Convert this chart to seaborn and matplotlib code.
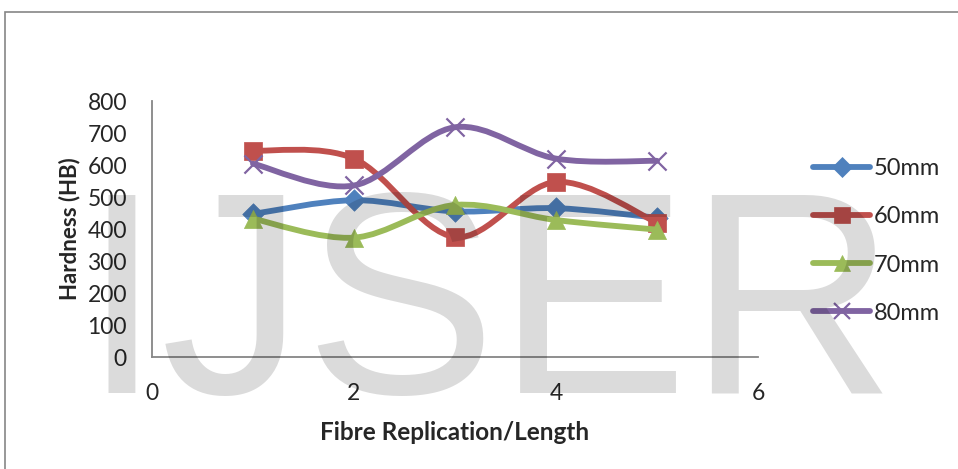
import numpy as np
import pandas as pd
import matplotlib
matplotlib.use("Agg")
import matplotlib.pyplot as plt
import seaborn as sns
from matplotlib.path import Path
from matplotlib.patches import PathPatch, Rectangle
from matplotlib.lines import Line2D

# ---- data ----
replication = [1, 2, 3, 4, 5]
series_names = ["50mm", "60mm", "70mm", "80mm"]
hb_50mm = [447, 490, 455, 465, 435]
hb_60mm = [645, 620, 375, 547, 420]
hb_70mm = [432, 373, 475, 428, 398]
hb_80mm = [604, 536, 718, 620, 613]
x_ticks = [0, 2, 4, 6]
y_ticks = [0, 100, 200, 300, 400, 500, 600, 700, 800]

colors = ["#4F81BD", "#C0504D", "#9BBB59", "#8064A2"]
markers = ["D", "s", "^", "x"]
msizes = [120, 160, 170, 170]

sns.set_theme(style="white")
plt.rcParams["font.family"] = ["Lato", "DejaVu Sans"]

fig = plt.figure(figsize=(9.58, 4.69), dpi=100)
ax = fig.add_axes([152/958, 1-357/469, (758-152)/958, (357-101)/469])

df = pd.DataFrame({
    "x": replication * 4,
    "hb": hb_50mm + hb_60mm + hb_70mm + hb_80mm,
    "series": sum([[n] * len(replication) for n in series_names], []),
})


def smooth_path(xs, ys):
    # Excel-style smoothed line: cubic Bezier segments through the data points
    pts = np.column_stack([xs, ys]).astype(float)
    n = len(pts)
    verts = [pts[0]]
    codes = [Path.MOVETO]
    for i in range(n - 1):
        p0 = pts[i - 1] if i > 0 else pts[i]
        p1 = pts[i]
        p2 = pts[i + 1]
        p3 = pts[i + 2] if i + 2 < n else pts[i + 1]
        c1 = p1 + (p2 - p0) / 6.0
        c2 = p2 - (p3 - p1) / 6.0
        verts += [c1, c2, p2]
        codes += [Path.CURVE4] * 3
    return Path(verts, codes)


for i, name in enumerate(series_names):
    sub = df[df["series"] == name]
    patch = PathPatch(smooth_path(sub["x"].values, sub["hb"].values),
                      facecolor="none", edgecolor=colors[i], lw=4.2,
                      capstyle="round", joinstyle="round", zorder=2 + i * 2)
    ax.add_patch(patch)
    if markers[i] == "x":
        sns.scatterplot(data=sub, x="x", y="hb", marker="x", color=colors[i],
                        s=msizes[i], linewidth=1.6, ax=ax, zorder=3 + i * 2, legend=False)
    else:
        sns.scatterplot(data=sub, x="x", y="hb", marker=markers[i], color=colors[i],
                        edgecolor=colors[i], s=msizes[i], linewidth=0.5, ax=ax,
                        zorder=3 + i * 2, legend=False)

ax.set_xlim(0, 6)
ax.set_ylim(0, 800)
ax.set_xticks(x_ticks)
ax.set_yticks(y_ticks)
ax.set_xticklabels([str(t) for t in x_ticks], fontsize=16.5)
ax.set_yticklabels([str(t) for t in y_ticks], fontsize=16.5)
ax.tick_params(axis="both", length=0)
ax.tick_params(axis="y", pad=18)
ax.tick_params(axis="x", pad=19)
ax.set_xlabel("Fibre Replication/Length", fontsize=17.5, fontweight="bold", labelpad=12)
ax.set_ylabel("Hardness (HB)", fontsize=16, fontweight="bold", labelpad=5)
for s in ["top", "right"]:
    ax.spines[s].set_visible(False)
for s in ["left", "bottom"]:
    ax.spines[s].set_color("#868686")
    ax.spines[s].set_linewidth(1.3)
ax.grid(False)
ax.set_facecolor("none")

handles = [Line2D([0], [0], color=colors[i], lw=4.2, marker=markers[i],
                  markersize=12 if markers[i] != "D" else 10,
                  markeredgewidth=1.6 if markers[i] == "x" else 0.5,
                  markeredgecolor=colors[i], solid_capstyle="round")
           for i in range(4)]
leg = fig.legend(handles, series_names, loc="center left",
                 bbox_to_anchor=(804/958, 1-241/469), frameon=False,
                 fontsize=17, handlelength=2.4, handletextpad=0.15,
                 labelspacing=1.15, borderaxespad=0)

# outer chart frame
fig.patches.append(Rectangle((5/958, -0.1), 1.2, 1-12/469 + 0.1,
                             transform=fig.transFigure, fill=False,
                             edgecolor="#868686", lw=1.2, zorder=0))

# watermark
fig.text(81/958, 1-393/469, "IJSER", fontsize=207,
         family=["Liberation Sans", "Arimo", "DejaVu Sans"],
         color="black", alpha=0.14, ha="left", va="baseline", zorder=100)

fig.savefig("out.png", dpi=100)
